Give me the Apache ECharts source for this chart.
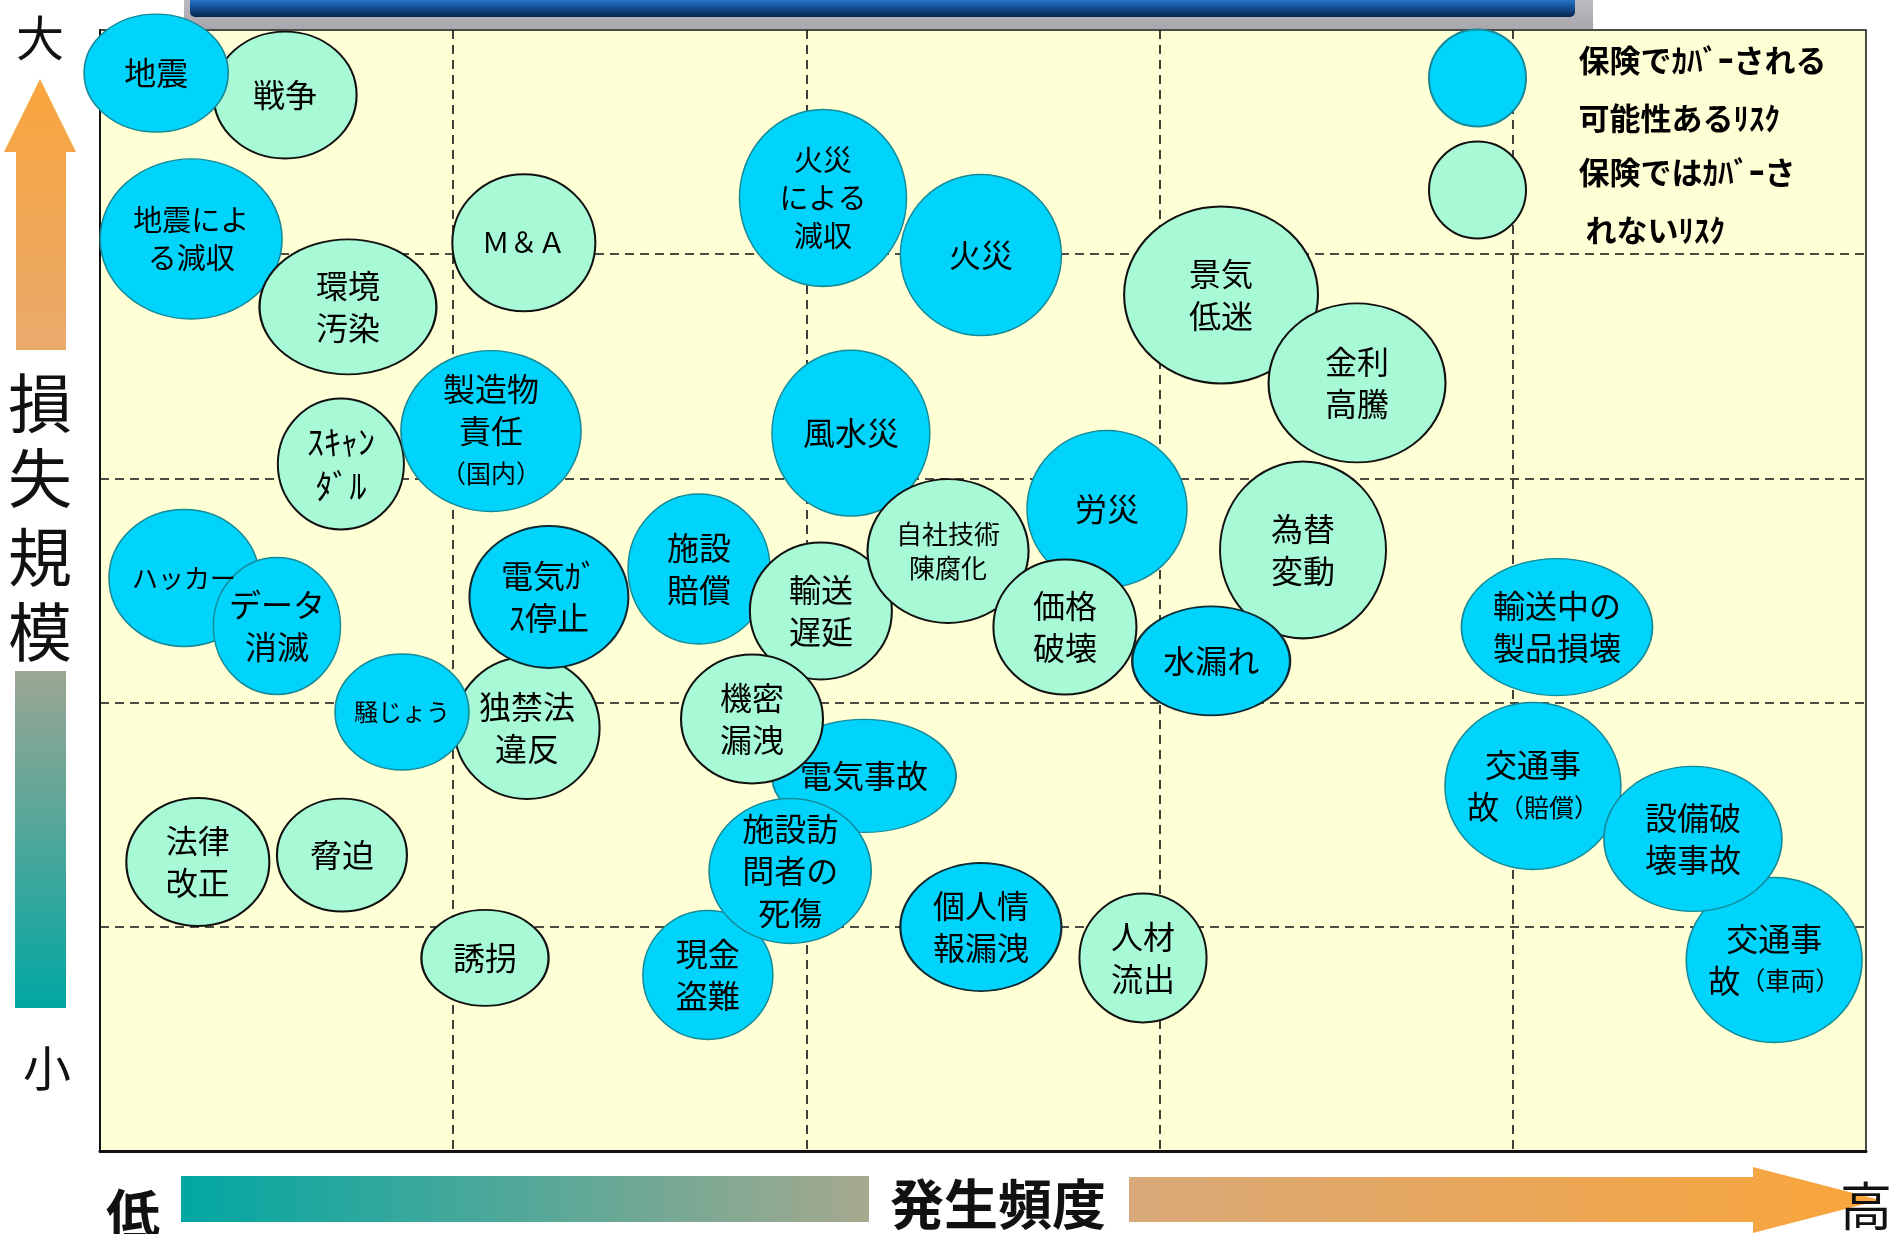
<!DOCTYPE html>
<html>
<head>
<meta charset="utf-8">
<script src="https://cdn.jsdelivr.net/npm/echarts@6/dist/echarts.min.js"></script>
<style>
  html, body { margin: 0; padding: 0; background: #fff; }
  #chart { width: 1889px; height: 1234px; }
</style>
</head>
<body>
<div id="chart"></div>
<script>
// リスク名（改行はラベルの改行）
const riskNames = [
  '戦争', '地震', '地震によ\nる減収', '環境\n汚染', 'Ｍ＆Ａ', 'ｽｷｬﾝ\nﾀﾞﾙ', '製造物\n責任\n(国内)',
  '火災\nによる\n減収', '火災', '景気\n低迷', '金利\n高騰', '為替\n変動', '風水災', '労災',
  '施設\n賠償', '輸送\n遅延', '自社技術\n陳腐化', '価格\n破壊', '水漏れ', '電気事故', '機密\n漏洩',
  '現金\n盗難', '施設訪\n問者の\n死傷', '個人情\n報漏洩', '人材\n流出', 'ハッカー', 'データ\n消滅',
  '独禁法\n違反', '騒じょう', '電気ｶﾞ\nｽ停止', '法律\n改正', '脅迫', '誘拐',
  '輸送中の\n製品損壊', '交通事\n故(賠償)', '交通事\n故(車両)', '設備破\n壊事故'
];
// 発生頻度（横軸 0〜5）
const freqX = [
  0.524, 0.159, 0.258, 0.702, 1.200, 0.682, 1.107,
  2.047, 2.494, 3.174, 3.559, 3.406, 2.126, 2.851,
  1.696, 2.041, 2.401, 2.732, 3.146, 2.163, 1.846,
  1.721, 1.954, 2.494, 2.953, 0.238, 0.501,
  1.209, 0.855, 1.271, 0.277, 0.685, 1.090,
  4.125, 4.057, 4.740, 4.510
];
// 損失規模（縦軸 0〜5）
const lossY = [
  4.710, 4.808, 4.068, 3.765, 4.051, 3.064, 3.211,
  4.251, 3.996, 3.818, 3.426, 2.681, 3.202, 2.864,
  2.596, 2.409, 2.676, 2.337, 2.186, 1.673, 1.927,
  0.785, 1.249, 0.999, 0.861, 2.556, 2.342,
  1.887, 1.958, 2.471, 1.289, 1.320, 0.861,
  2.337, 1.628, 0.852, 1.392
];
// 楕円の広がり（頻度方向・規模方向、軸の単位）
const spanX = [
  0.405, 0.408, 0.515, 0.501, 0.405, 0.357, 0.510,
  0.473, 0.456, 0.549, 0.501, 0.470, 0.447, 0.453,
  0.402, 0.402, 0.456, 0.405, 0.447, 0.521, 0.402,
  0.368, 0.459, 0.456, 0.360, 0.425, 0.360,
  0.411, 0.379, 0.450, 0.405, 0.368, 0.360,
  0.541, 0.498, 0.498, 0.504
];
const spanY = [
  0.566, 0.526, 0.714, 0.602, 0.611, 0.584, 0.718,
  0.789, 0.718, 0.789, 0.709, 0.789, 0.740, 0.700,
  0.669, 0.611, 0.642, 0.602, 0.486, 0.504, 0.575,
  0.575, 0.647, 0.571, 0.575, 0.611, 0.611,
  0.633, 0.517, 0.633, 0.571, 0.504, 0.428,
  0.611, 0.745, 0.736, 0.647
];
// 1 = 保険でカバーされる可能性あり, 0 = カバーされない
const insured = [
  0, 1, 1, 0, 0, 0, 1,
  1, 1, 0, 0, 0, 1, 1,
  1, 0, 0, 0, 1, 1, 0,
  1, 1, 1, 0, 1, 1,
  0, 1, 1, 0, 0, 0,
  1, 1, 1, 1
];
const legendNames = ['保険でｶﾊﾞｰされる\n可能性あるﾘｽｸ', '保険ではｶﾊﾞｰさ\n れないﾘｽｸ'];

const FONT = '"Noto Sans CJK JP", "Noto Sans", sans-serif';
const BLUE = '#00D4FC';
const GREEN = '#A8FAD6';
const BLUE_EDGE = '#168A98';
const DARK_EDGE = '#0c2a30';

// ラベルの文字サイズ調整
const labelSize = {
  'ｽｷｬﾝ\nﾀﾞﾙ': 34, '地震によ\nる減収': 29, '火災\nによる\n減収': 29, 'Ｍ＆Ａ': 28,
  '自社技術\n陳腐化': 26, 'ハッカー': 26, '騒じょう': 24
};
const darkEdge = ['水漏れ', '電気ｶﾞ\nｽ停止', '個人情\n報漏洩'];

function buildData(kx, ky) {
  return riskNames.map((name, i) => {
    const fs = labelSize[name] || 32;
    const dark = darkEdge.includes(name);
    return {
      name: name,
      value: [freqX[i], lossY[i]],
      symbolSize: [spanX[i] * kx, spanY[i] * ky],
      itemStyle: {
        color: insured[i] ? BLUE : GREEN,
        opacity: 1,
        borderColor: insured[i] ? (dark ? DARK_EDGE : BLUE_EDGE) : '#111',
        borderWidth: insured[i] && !dark ? 1.5 : 2
      },
      label: { fontSize: fs, lineHeight: Math.round(fs * 1.3) }
    };
  });
}

const dashLine = { show: true, showMinLine: false, showMaxLine: false,
  lineStyle: { color: '#111', width: 1.6, type: [9, 6] } };

const hText = (x, y, text, size, weight) => ({
  type: 'text', x: x, y: y, z: 10,
  style: { text: text, fontSize: size, fontWeight: weight || 'normal', fontFamily: FONT,
    fill: '#111', align: 'center', verticalAlign: 'middle' }
});

const option = {
  animation: false,
  backgroundColor: '#fff',
  grid: {
    left: 100, top: 30, right: 23, bottom: 83,
    show: true, backgroundColor: '#FFFFD6', borderColor: '#111', borderWidth: 1.5
  },
  xAxis: {
    type: 'value', min: 0, max: 5, interval: 1,
    axisLabel: { show: false }, axisTick: { show: false },
    axisLine: { show: true, lineStyle: { color: '#111', width: 3 } },
    splitLine: dashLine
  },
  yAxis: {
    type: 'value', min: 0, max: 5, interval: 1,
    axisLabel: { show: false }, axisTick: { show: false },
    axisLine: { show: true, lineStyle: { color: '#111', width: 2 } },
    splitLine: dashLine
  },
  // 凡例（テキストは先頭に小さな空行を入れて少し下げる）
  legend: legendNames.map((nm, i) => ({
    data: [nm], left: 1428, top: i === 0 ? 9 : 121, padding: 0,
    icon: 'circle', itemWidth: 98, itemHeight: 97, selectedMode: false,
    formatter: name => '{g| }\n' + name,
    textStyle: { fontSize: 31, fontWeight: 'bold', fontFamily: FONT, color: '#000',
      lineHeight: 58, padding: [0, 0, 0, 47],
      rich: { g: { fontSize: 10, lineHeight: 22 } } }
  })),
  graphic: [
    // 上部の帯（見出しの切れ端）
    { type: 'rect', shape: { x: 184, y: 0, width: 1409, height: 29 },
      style: { fill: new echarts.graphic.LinearGradient(0, 0, 0, 1, [
        { offset: 0, color: '#bdb9c1' }, { offset: 1, color: '#aaa6ae' }]) } },
    { type: 'rect', shape: { x: 190, y: -8, width: 1385, height: 25, r: 5 },
      style: { fill: new echarts.graphic.LinearGradient(0, 0, 0, 1, [
        { offset: 0, color: '#5aa2ea' }, { offset: 0.45, color: '#1d62b4' },
        { offset: 1, color: '#04254c' }]) } },
    // 縦軸：損失規模
    hText(40, 38, '大', 48),
    { type: 'polygon', shape: { points: [[40, 79], [76, 152], [66, 152], [66, 350], [16, 350], [16, 152], [4, 152]] },
      style: { fill: new echarts.graphic.LinearGradient(0, 0, 0, 1, [
        { offset: 0, color: '#F9A53C' }, { offset: 1, color: '#E9AA6C' }]) } },
    hText(40, 403, '損', 64), hText(40, 478, '失', 64),
    hText(40, 557, '規', 64), hText(40, 632, '模', 64),
    { type: 'rect', shape: { x: 15, y: 671, width: 51, height: 337 },
      style: { fill: new echarts.graphic.LinearGradient(0, 0, 0, 1, [
        { offset: 0, color: '#9CA692' }, { offset: 1, color: '#00A7A3' }]) } },
    hText(47, 1068, '小', 48),
    // 横軸：発生頻度
    hText(133, 1214, '低', 54, 'bold'),
    { type: 'rect', shape: { x: 181, y: 1176, width: 688, height: 46 },
      style: { fill: new echarts.graphic.LinearGradient(0, 0, 1, 0, [
        { offset: 0, color: '#00A7A3' }, { offset: 1, color: '#A6A98E' }]) } },
    hText(998, 1204, '発生頻度', 54, 'bold'),
    { type: 'polygon', shape: { points: [[1129, 1177], [1753, 1177], [1753, 1167], [1880, 1200], [1753, 1233], [1753, 1222], [1129, 1222]] },
      style: { fill: new echarts.graphic.LinearGradient(0, 0, 1, 0, [
        { offset: 0, color: '#D9AA7A' }, { offset: 1, color: '#FAA53A' }]) } },
    hText(1866, 1206, '高', 52)
  ],
  series: [
    {
      id: 'risk', type: 'scatter', symbol: 'circle', clip: false, z: 3,
      data: [],
      label: {
        show: true, position: 'inside', color: '#000', fontFamily: FONT,
        formatter: p => p.name.replace(/\((.+?)\)/, '{s|（$1）}'),
        rich: { s: { fontSize: 25, fontFamily: FONT, color: '#000' } }
      },
      emphasis: { disabled: true }
    },
    { name: legendNames[0], type: 'scatter', data: [],
      itemStyle: { color: BLUE, opacity: 1, borderColor: BLUE_EDGE, borderWidth: 1.5 } },
    { name: legendNames[1], type: 'scatter', data: [],
      itemStyle: { color: GREEN, opacity: 1, borderColor: '#111', borderWidth: 2 } }
  ]
};

const chart = echarts.init(document.getElementById('chart'));
chart.setOption(option);
// 軸の単位 → ピクセル
const o = chart.convertToPixel({ gridIndex: 0 }, [0, 0]);
const u = chart.convertToPixel({ gridIndex: 0 }, [1, 1]);
chart.setOption({ series: [{ id: 'risk', data: buildData(u[0] - o[0], o[1] - u[1]) }] });
</script>
</body>
</html>
